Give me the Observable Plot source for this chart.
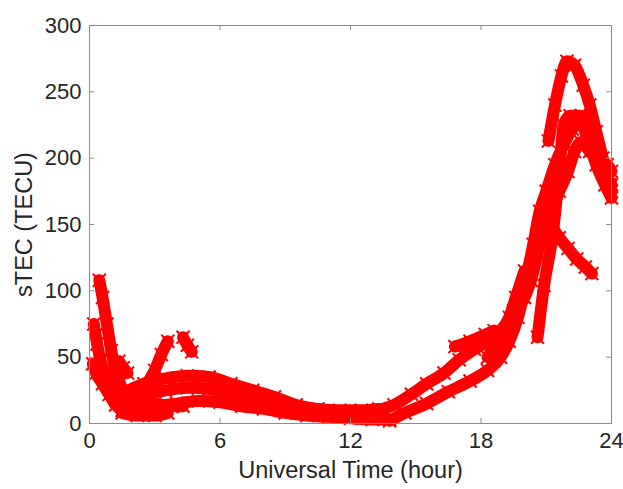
<!DOCTYPE html>
<html>
<head>
<meta charset="utf-8">
<script src="https://cdn.jsdelivr.net/npm/d3@7"></script>
<script src="https://cdn.jsdelivr.net/npm/@observablehq/plot@0.6"></script>
<style>
  html, body { margin: 0; padding: 0; background: #fff; }
  #chart { width: 623px; height: 489px; }
</style>
</head>
<body>
<div id="chart"></div>
<script>
// ---- data: satellite sTEC arcs, [UT hour, sTEC TECU] ----
const arcA = [[0.45,108],[0.6,95],[0.8,75],[1.0,55],[1.2,40],[1.4,30],[1.7,22],[2.0,18]];
const arcB = [[0.2,75],[0.35,60],[0.5,48],[0.7,38],[0.9,30],[1.2,22],[1.5,17]];
const arcC = [[0.15,45],[0.3,38],[0.6,30],[0.9,22],[1.2,14],[1.5,10],[2.0,8],[2.5,8],[3.0,9]];
const arcD1 = [[1.5,14],[2.2,16],[3.0,15],[3.8,13],[4.3,13]];
const arcD2 = [[1.5,8],[2.2,6],[3.0,6],[3.6,8]];
const arcE = [[2.0,20],[2.5,27],[3.0,40],[3.3,52],[3.6,62]];
const arcF = [[4.3,65],[4.5,59],[4.7,54]];
const arcF2 = [[1.35,47],[1.55,42],[1.75,38]];
const arcG = [[1.8,25],[2.5,30],[3.5,34],[4.5,36],[5.5,35],[6.5,30],[7.5,25],[8.5,20],[9.5,14],[10.5,11],[11.5,10],[12.5,10],[13.3,11]];
const arcH = [[2.5,22],[3.5,25],[4.5,27],[5.5,26],[6.5,22],[7.5,18],[8.5,14],[9.5,10],[10.5,8],[11.5,7],[12.5,6],[13.5,6]];
const arcI = [[3.0,13],[4.0,15],[5.0,17],[6.0,16],[7.0,13],[8.0,11],[9.0,8],[10.0,6],[11.0,5],[12.0,4],[13.0,3],[13.8,3]];
const arcJ1 = [[13.8,2],[14.5,8],[15.5,15],[16.5,24],[17.5,32],[18.3,40],[18.9,50],[19.3,62],[19.7,80],[20.0,100]];
const arcJ2 = [[13.3,10],[14.0,14],[14.8,22],[15.5,30],[16.3,38],[17.0,48],[17.7,56],[18.3,62],[18.8,68],[19.3,80],[19.6,95],[20.0,115]];
const arcJ3 = [[16.8,58],[17.5,62],[18.2,67],[18.6,70]];
const arcK = [[18.3,50],[18.9,65],[19.5,85],[20.0,105],[20.4,135],[20.7,160],[21.0,175],[21.4,195],[21.8,210],[22.2,222],[22.5,228],[22.9,215],[23.3,195],[23.7,180],[24.0,170]];
const arcM = [[19.0,60],[19.6,85],[20.0,95],[20.3,108],[20.6,128],[20.9,150],[21.2,160],[21.6,175],[22.0,190],[22.3,205],[22.6,212],[23.0,205],[23.4,198],[23.8,195],[24.0,190]];
const arcN = [[20.6,65],[20.9,104],[21.3,143],[21.6,190],[21.8,225],[22.1,232],[22.6,232],[23.0,222],[23.4,200],[23.8,185],[24.0,180]];
const arcP = [[21.1,213],[21.4,240],[21.7,262],[21.95,273],[22.3,270],[22.7,255],[23.0,240],[23.3,220],[23.6,200],[23.9,180],[24.0,175]];
const arcL = [[21.2,150],[21.6,140],[22.0,132],[22.4,124],[22.8,118],[23.1,113]];

const xTicks = [0, 6, 12, 18, 24];
const yTicks = [0, 50, 100, 150, 200, 250, 300];

const arcs = {arcA, arcB, arcC, arcD1, arcD2, arcE, arcF, arcF2, arcG, arcH, arcI,
  arcJ1, arcJ2, arcJ3, arcK, arcM, arcN, arcP, arcL};
const rows = [];
for (const [id, pts] of Object.entries(arcs)) {
  for (const [t, v] of pts) rows.push({id, t, v});
}

const ink = "#262626";
const frameColor = "#8c8c8c";

const chart = Plot.plot({
  width: 623,
  height: 489,
  marginLeft: 89,
  marginRight: 12,
  marginTop: 25,
  marginBottom: 66,
  style: {fontFamily: "'Liberation Sans', Arial, sans-serif", fontSize: "22px", color: ink, background: "#fff"},
  x: {domain: [0, 24]},
  y: {domain: [0, 300]},
  marks: [
    Plot.line(rows, {x: "t", y: "v", z: "id", stroke: "#ff0000", strokeWidth: 12,
      strokeLinejoin: "round", strokeLinecap: "round", curve: "monotone-x"}),
    Plot.dot(rows, {x: "t", y: "v", symbol: "times", r: 6, stroke: "#ff0000", strokeWidth: 2}),
    Plot.frame({stroke: frameColor, strokeWidth: 1}),
    // inward ticks on all four sides
    Plot.ruleX(xTicks, {x: d => d, y1: 0, y2: 3.8, stroke: frameColor}),
    Plot.ruleX(xTicks, {x: d => d, y1: 300, y2: 296.2, stroke: frameColor}),
    Plot.ruleY(yTicks, {y: d => d, x1: 0, x2: 0.23, stroke: frameColor}),
    Plot.ruleY(yTicks, {y: d => d, x1: 24, x2: 23.77, stroke: frameColor}),
    Plot.axisX(xTicks, {tickSize: 0, tickPadding: 9, fontSize: 22, fill: ink,
      label: "Universal Time (hour)", labelAnchor: "center", labelOffset: 54, labelArrow: "none"}),
    Plot.axisY(yTicks, {tickSize: 0, tickPadding: 8, fontSize: 22, fill: ink,
      label: "sTEC (TECU)", labelAnchor: "center", labelOffset: 74, labelArrow: "none"})
  ]
});
// axis titles slightly larger, as in the reference
chart.querySelectorAll("[aria-label='x-axis label'] text, [aria-label='y-axis label'] text")
  .forEach(t => t.setAttribute("font-size", "23.5"));
document.getElementById("chart").appendChild(chart);
</script>
</body>
</html>
